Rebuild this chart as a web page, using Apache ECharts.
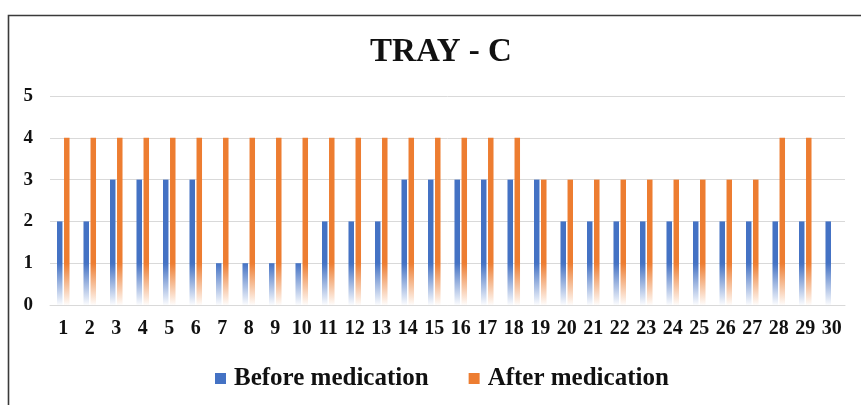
<!DOCTYPE html>
<html>
<head>
<meta charset="utf-8">
<script src="https://cdn.jsdelivr.net/npm/echarts@6/dist/echarts.min.js"></script>
<style>html,body{margin:0;padding:0;background:#fff;}#c{width:861px;height:405px;}</style>
</head>
<body>
<div id="c"></div>
<script>
var categories = ['1','2','3','4','5','6','7','8','9','10','11','12','13','14','15','16','17','18','19','20','21','22','23','24','25','26','27','28','29','30'];
var beforeMedication = [2,2,3,3,3,3,1,1,1,1,2,2,2,3,3,3,3,3,3,2,2,2,2,2,2,2,2,2,2,2];
var afterMedication = [4,4,4,4,4,4,4,4,4,4,4,4,4,4,4,4,4,4,3,3,3,3,3,3,3,3,3,4,4,null];
var yTicks = [0,1,2,3,4,5];

var FONT = 'Liberation Serif, Times New Roman, serif';
function fade(c, t) {
  return {
    type: 'linear', x: 0, y: 0, x2: 0, y2: 405, global: true,
    colorStops: [
      {offset: 0, color: c},
      {offset: 0.65, color: c},
      {offset: 0.752, color: t}
    ]
  };
}
var chart = echarts.init(document.getElementById('c'));
chart.setOption({
  animation: false,
  backgroundColor: '#fff',
  graphic: [{
    type: 'rect', left: 6, top: 13, shape: {width: 900, height: 500},
    style: {fill: 'none', stroke: '#3a3a3a', lineWidth: 1.6}, silent: true
  }],
  title: {
    text: 'TRAY - C', left: 436, textAlign: 'center', top: 31,
    textStyle: {fontFamily: FONT, fontWeight: 'bold', fontSize: 33, color: '#111'}
  },
  legend: {
    bottom: 9, left: 210,
    itemWidth: 11, itemHeight: 11, itemGap: 40,
    icon: 'rect',
    textStyle: {fontFamily: FONT, fontWeight: 'bold', fontSize: 25, color: '#111', padding: [0,0,0,3]},
    data: [
      {name: 'Before medication', itemStyle: {color: '#4472C4'}},
      {name: 'After medication', itemStyle: {color: '#ED7D31'}}
    ]
  },
  grid: {left: 50, right: 16, top: 96, bottom: 100, containLabel: false},
  xAxis: {
    type: 'category', data: categories,
    axisLine: {lineStyle: {color: '#d9d9d9', width: 1}},
    axisTick: {show: false},
    axisLabel: {fontFamily: FONT, fontWeight: 'bold', fontSize: 20, color: '#111', margin: 14, interval: 0}
  },
  yAxis: {
    type: 'value', min: yTicks[0], max: yTicks[yTicks.length-1], interval: 1,
    axisLine: {show: false}, axisTick: {show: false},
    splitLine: {lineStyle: {color: '#d9d9d9', width: 1}},
    axisLabel: {fontFamily: FONT, fontWeight: 'bold', fontSize: 19, color: '#111', margin: 17}
  },
  series: [
    {
      name: 'Before medication', type: 'bar', data: beforeMedication,
      barWidth: 5.5, barGap: '28%',
      itemStyle: {color: fade('#4472C4', 'rgba(68,114,196,0.03)')}
    },
    {
      name: 'After medication', type: 'bar', data: afterMedication,
      barWidth: 5.5,
      itemStyle: {color: fade('#ED7D31', 'rgba(237,125,49,0.03)')}
    }
  ]
});
</script>
</body>
</html>
